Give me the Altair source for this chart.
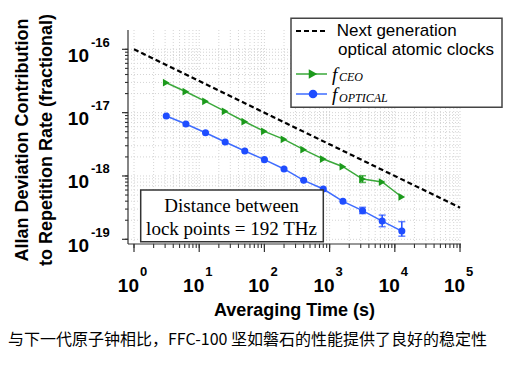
import altair as alt
import pandas as pd

# ---------------- data ----------------
tau = [3.125, 6.25, 12.5, 25, 50, 100, 200, 400, 800, 1600, 3200, 6400, 12800]
f_ceo = [2.97e-17, 2.14e-17, 1.51e-17, 1.05e-17, 7.19e-18, 5.07e-18, 3.79e-18,
         2.60e-18, 1.85e-18, 1.40e-18, 8.95e-19, 8.03e-19, 4.66e-19]
f_opt = [8.85e-18, 6.61e-18, 4.82e-18, 3.44e-18, 2.48e-18, 1.81e-18, 1.29e-18,
         8.54e-19, 6.22e-19, 3.98e-19, 2.83e-19, 1.94e-19, 1.35e-19]

err_tau = [3200, 3200, 6400, 12800]
err_series = ["ceo", "opt", "opt", "opt"]
err_lo = [7.9e-19, 2.55e-19, 1.58e-19, 1.12e-19]
err_hi = [1.01e-18, 3.2e-19, 2.41e-19, 1.9e-19]

clock_tau = [1, 1e5]
clock_adev = [1e-16, 3.16e-19]

x_major = [1, 10, 100, 1000, 1e4, 1e5]
x_exp = ["0", "1", "2", "3", "4", "5"]
y_major = [1e-19, 1e-18, 1e-17, 1e-16]
y_exp = ["-19", "-18", "-17", "-16"]

x_title = "Averaging Time (s)"
y_title = ["Allan Deviation Contribution", "to Repetition Rate (fractional)"]
legend_clock = ["Next generation", "optical atomic clocks"]
note_lines = ["Distance between", "lock points = 192 THz"]
caption = "与下一代原子钟相比，FFC-100 坚如磐石的性能提供了良好的稳定性"

# tick positions (major decades + 2..9 minors)
x_ticks = [m * d for d in [1, 10, 100, 1000, 1e4] for m in range(1, 10)] + [1e5]
y_ticks = [m * d for d in [1e-19, 1e-18, 1e-17, 1e-16] for m in range(1, 10)
           if m * d < 2.0e-16]

# ---------------- styling ----------------
GREEN = "#1c9a1c"
GREEN_LINE = "#3aa83a"
BLUE = "#1f4dff"
BLUE_LINE = "#3e6cff"
AX = "#333333"
GRID = "#d4d4d4"
W, H = 333, 214

xscale = alt.Scale(type="log", domain=[0.809, 103500], nice=False)
yscale = alt.Scale(type="log", domain=[8.43e-20, 2.018e-16], nice=False)

df_clock = pd.DataFrame({"tau": clock_tau, "adev": clock_adev})
df_ceo = pd.DataFrame({"tau": tau, "adev": f_ceo})
df_opt = pd.DataFrame({"tau": tau, "adev": f_opt})
df_err = pd.DataFrame({"tau": err_tau, "s": err_series, "lo": err_lo, "hi": err_hi})
df_xt = pd.DataFrame({"v": x_ticks})
df_yt = pd.DataFrame({"v": y_ticks})
df_xm = pd.DataFrame({"v": x_major})
df_ym = pd.DataFrame({"v": y_major})
one = pd.DataFrame({"a": [0]})

X = lambda f="tau:Q": alt.X(f, scale=xscale, axis=None)
Y = lambda f="adev:Q": alt.Y(f, scale=yscale, axis=None)
PX = lambda f: alt.X(f, scale=None, axis=None)
PY = lambda f: alt.Y(f, scale=None, axis=None)

# ---- grid, axis lines and ticks ----
x_grid = alt.Chart(df_xt).mark_rule(color=GRID, strokeWidth=1, strokeDash=[1, 2]).encode(
    x=X("v:Q"), y=alt.value(0), y2=alt.value(H))
y_grid = alt.Chart(df_yt).mark_rule(color=GRID, strokeWidth=1, strokeDash=[1, 2]).encode(
    y=Y("v:Q"), x=alt.value(0), x2=alt.value(W))
x_dom = alt.Chart(one).mark_rule(color=AX, strokeWidth=1.2).encode(
    x=alt.value(0), x2=alt.value(W), y=alt.value(H))
y_dom = alt.Chart(one).mark_rule(color=AX, strokeWidth=1.2).encode(
    y=alt.value(0), y2=alt.value(H), x=alt.value(0))
x_minor = alt.Chart(df_xt).mark_rule(color=AX, strokeWidth=1.1).encode(
    x=X("v:Q"), y=alt.value(H), y2=alt.value(H + 4))
y_minor = alt.Chart(df_yt).mark_rule(color=AX, strokeWidth=1.1).encode(
    y=Y("v:Q"), x=alt.value(-3), x2=alt.value(0))
x_majt = alt.Chart(df_xm).mark_rule(color=AX, strokeWidth=1.2).encode(
    x=X("v:Q"), y=alt.value(H), y2=alt.value(H + 8))
y_majt = alt.Chart(df_ym).mark_rule(color=AX, strokeWidth=1.2).encode(
    y=Y("v:Q"), x=alt.value(-6), x2=alt.value(0))

# ---- data ----
clock = alt.Chart(df_clock).mark_line(color="black", strokeDash=[5, 3], strokeWidth=2.2).encode(
    x=X(), y=Y())
ceo_line = alt.Chart(df_ceo).mark_line(color=GREEN_LINE, strokeWidth=1.5).encode(x=X(), y=Y())
ceo_pts = alt.Chart(df_ceo).mark_point(shape="triangle-right", filled=True, size=60,
                                       color=GREEN, opacity=1).encode(x=X(), y=Y())
opt_line = alt.Chart(df_opt).mark_line(color=BLUE_LINE, strokeWidth=1.5).encode(x=X(), y=Y())
opt_pts = alt.Chart(df_opt).mark_point(shape="circle", filled=True, size=50,
                                       color=BLUE, opacity=1).encode(x=X(), y=Y())

err_color = alt.Color("s:N", scale=alt.Scale(domain=["ceo", "opt"], range=[GREEN, BLUE]), legend=None)
err_rule = alt.Chart(df_err).mark_rule(strokeWidth=1.5).encode(
    x=X(), y=Y("lo:Q"), y2="hi:Q", color=err_color)
err_cap_lo = alt.Chart(df_err).mark_tick(orient="horizontal", size=7, thickness=1.5).encode(
    x=X(), y=Y("lo:Q"), color=err_color)
err_cap_hi = alt.Chart(df_err).mark_tick(orient="horizontal", size=7, thickness=1.5).encode(
    x=X(), y=Y("hi:Q"), color=err_color)

# ---- annotation box ----
note_box = alt.Chart(one).mark_rect(fill="white", stroke="#333333", strokeWidth=1.5).encode(
    x=alt.value(12.7), x2=alt.value(195.3), y=alt.value(160), y2=alt.value(211.7))
df_note = pd.DataFrame({"t": note_lines, "yy": [175.5, 198.5]})
note_text = alt.Chart(df_note).mark_text(font="Liberation Serif", fontSize=19, color="black",
                                         align="center", baseline="middle").encode(
    x=alt.value(103.5), y=PY("yy:Q"), text="t:N")

# ---- legend ----
leg_box = alt.Chart(one).mark_rect(fill="white", stroke="#444444", strokeWidth=1.5).encode(
    x=alt.value(163), x2=alt.value(374), y=alt.value(-11.7), y2=alt.value(77.3))
leg_dash = alt.Chart(one).mark_rule(color="black", strokeDash=[5, 3], strokeWidth=2.2).encode(
    x=alt.value(168), x2=alt.value(199), y=alt.value(1))
leg_g_line = alt.Chart(one).mark_rule(color=GREEN_LINE, strokeWidth=1.5).encode(
    x=alt.value(168), x2=alt.value(199), y=alt.value(44))
leg_g_pt = alt.Chart(one).mark_point(shape="triangle-right", filled=True, size=95,
                                     color=GREEN, opacity=1).encode(x=alt.value(185), y=alt.value(44))
leg_b_line = alt.Chart(one).mark_rule(color=BLUE_LINE, strokeWidth=1.5).encode(
    x=alt.value(168), x2=alt.value(199), y=alt.value(64))
leg_b_pt = alt.Chart(one).mark_point(shape="circle", filled=True, size=75,
                                     color=BLUE, opacity=1).encode(x=alt.value(185), y=alt.value(64))
df_leg = pd.DataFrame({"t": legend_clock, "xx": [208.7, 210], "yy": [1, 20]})
leg_text = alt.Chart(df_leg).mark_text(font="Liberation Sans", fontSize=17, color="black",
                                       align="left", baseline="middle").encode(
    x=PX("xx:Q"), y=PY("yy:Q"), text="t:N")
df_f = pd.DataFrame({"t": ["f", "f"], "yy": [50.5, 70.5]})
leg_f = alt.Chart(df_f).mark_text(font="Liberation Serif", fontStyle="italic", fontSize=19,
                                  color="black", align="left", baseline="alphabetic").encode(
    x=alt.value(204), y=PY("yy:Q"), text="t:N")
df_sub = pd.DataFrame({"t": ["CEO", "OPTICAL"], "yy": [51, 71.5]})
leg_sub = alt.Chart(df_sub).mark_text(font="Liberation Serif", fontStyle="italic", fontSize=12,
                                      color="black", align="left", baseline="alphabetic").encode(
    x=alt.value(211), y=PY("yy:Q"), text="t:N")

# ---- tick labels (10 with superscript exponent) ----
df_xl = pd.DataFrame({"v": x_major, "e": x_exp})
xl_base = alt.Chart(df_xl).mark_text(text="10", font="Liberation Sans", fontWeight="bold",
                                     fontSize=19, align="right", baseline="alphabetic", dx=5,
                                     color="black").encode(
    x=X("v:Q"), y=alt.value(H + 47.7))
xl_exp = alt.Chart(df_xl).mark_text(font="Liberation Sans", fontWeight="bold", fontSize=13,
                                    align="left", baseline="alphabetic", dx=6,
                                    color="black").encode(
    x=X("v:Q"), y=alt.value(H + 32), text="e:N")
df_yl = pd.DataFrame({"v": y_major, "e": y_exp})
yl_base = alt.Chart(df_yl).mark_text(text="10", font="Liberation Sans", fontWeight="bold",
                                     fontSize=19, align="right", baseline="alphabetic", dy=12.4,
                                     color="black").encode(
    x=alt.value(-39), y=Y("v:Q"))
yl_exp = alt.Chart(df_yl).mark_text(font="Liberation Sans", fontWeight="bold", fontSize=13,
                                    align="left", baseline="alphabetic", dy=-2.6,
                                    color="black").encode(
    x=alt.value(-37), y=Y("v:Q"), text="e:N")

# ---- axis titles & caption ----
xt = alt.Chart(pd.DataFrame({"t": [x_title]})).mark_text(
    font="Liberation Sans", fontWeight="bold", fontSize=18, align="center",
    baseline="alphabetic", color="black").encode(
    x=alt.value(W / 2), y=alt.value(286), text="t:N")
df_ytl = pd.DataFrame({"t": y_title, "xx": [-100, -76]})
yt = alt.Chart(df_ytl).mark_text(font="Liberation Sans", fontWeight="bold", fontSize=18,
                                 align="center", baseline="alphabetic", angle=270,
                                 color="black").encode(
    x=PX("xx:Q"), y=alt.value(110), text="t:N")

cap = alt.Chart(pd.DataFrame({"t": [caption]})).mark_text(
    font="Noto Sans CJK SC", fontSize=16, align="left", baseline="middle",
    color="black").encode(x=alt.value(-120), y=alt.value(309.5), text="t:N")

chart = alt.layer(
    x_grid, y_grid, x_dom, y_dom, x_minor, y_minor, x_majt, y_majt,
    clock, ceo_line, opt_line, err_rule, err_cap_lo, err_cap_hi, ceo_pts, opt_pts,
    note_box, note_text,
    leg_box, leg_dash, leg_g_line, leg_g_pt, leg_b_line, leg_b_pt, leg_text, leg_f, leg_sub,
    xl_base, xl_exp, yl_base, yl_exp, xt, yt, cap
).properties(
    width=W, height=H,
    autosize=alt.AutoSizeParams(type="none"),
    padding={"left": 120, "top": 22, "right": 42, "bottom": 118},
    background="white",
).configure_view(stroke=None)

chart.save("out.html", embed_options={"renderer": "svg", "actions": False})
